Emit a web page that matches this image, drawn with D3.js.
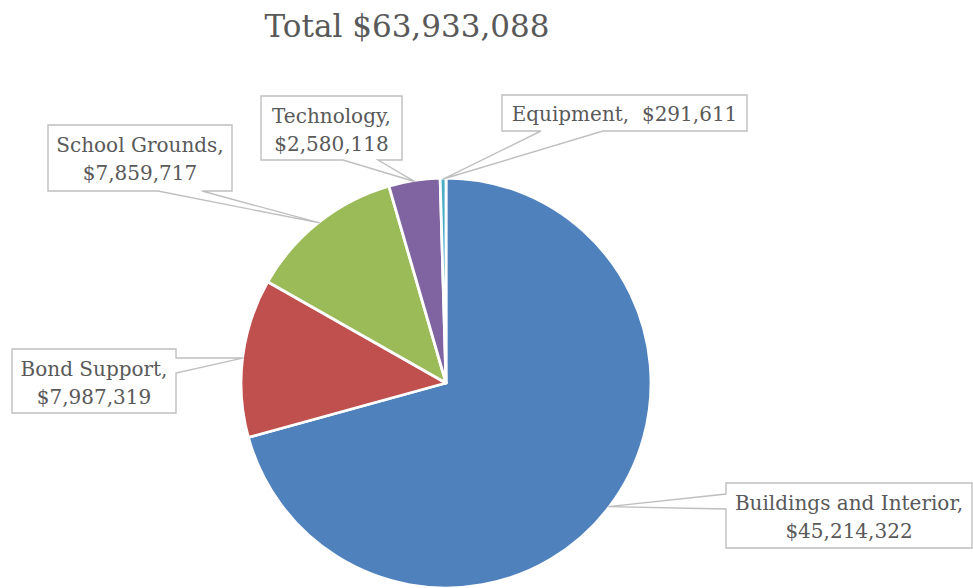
<!DOCTYPE html>
<html>
<head>
  <script src="https://d3js.org/d3.v7.min.js"></script>
  <style>
    body { margin: 0; background: #fff; }
  </style>
</head>
<body>
  <svg id="canvas" width="973" height="588"></svg>
  <script>
    const svg = d3.select("#canvas");

    // chart data
    const categories = ["Buildings and Interior", "Bond Support", "School Grounds", "Technology", "Equipment"];
    const values = [45214322, 7987319, 7859717, 2580118, 291611];
    const colors = ["#4F81BD", "#C0504D", "#9BBB59", "#8064A2", "#4BACC6"];
    const titleText = "Total $63,933,088";

    const font = "'DejaVu Serif', serif";
    const textColor = "#595959";
    const cx = 446, cy = 383, r = 205;

    // callout boxes (one per slice, same order)
    const boxes = [
      { x: 726, y: 483, w: 246, h: 65, side: "left",   n0: 494, n1: 509 },
      { x: 12,  y: 349, w: 164, h: 64, side: "right",  n0: 358, n1: 373 },
      { x: 48,  y: 125, w: 184, h: 66, side: "bottom", n0: 158, n1: 202 },
      { x: 261, y: 96,  w: 141, h: 64, side: "bottom", n0: 343, n1: 378 },
      { x: 502, y: 95,  w: 245, h: 36, side: "bottom", n0: 541, n1: 603 }
    ];

    const fmt = d3.format(",");

    svg.append("text")
      .attr("x", 407).attr("y", 37)
      .attr("text-anchor", "middle")
      .attr("font-family", font)
      .attr("font-size", 31)
      .attr("fill", textColor)
      .text(titleText);

    const pie = d3.pie().sort(null).value(d => d)(values);
    const arc = d3.arc().innerRadius(0).outerRadius(r);
    const edge = d3.arc().innerRadius(r - 1).outerRadius(r - 1);

    const g = svg.append("g").attr("transform", `translate(${cx},${cy})`);
    g.selectAll("path")
      .data(pie)
      .enter()
      .append("path")
      .attr("d", arc)
      .attr("fill", (d, i) => colors[i])
      .attr("stroke", "#fff")
      .attr("stroke-width", 2.8)
      .attr("stroke-linejoin", "round");

    function calloutPath(b, tip) {
      const x0 = b.x, y0 = b.y, x1 = b.x + b.w, y1 = b.y + b.h;
      const pts = [[x0, y0], [x1, y0]];
      if (b.side === "right") pts.push([x1, b.n0], tip, [x1, b.n1]);
      pts.push([x1, y1]);
      if (b.side === "bottom") pts.push([b.n1, y1], tip, [b.n0, y1]);
      pts.push([x0, y1]);
      if (b.side === "left") pts.push([x0, b.n1], tip, [x0, b.n0]);
      return "M" + pts.map(p => p.join(",")).join("L") + "Z";
    }

    const labels = svg.append("g");
    pie.forEach((d, i) => {
      const c = edge.centroid(d);
      const tip = [cx + c[0], cy + c[1]];
      const b = boxes[i];
      labels.append("path")
        .attr("d", calloutPath(b, tip))
        .attr("fill", "#fff")
        .attr("stroke", "#BFBFBF")
        .attr("stroke-width", 1.4);

      const lines = b.h < 50
        ? [categories[i] + ",\u00A0 $" + fmt(values[i])]
        : [categories[i] + ",", "$" + fmt(values[i])];
      const t = labels.append("text")
        .attr("text-anchor", "middle")
        .attr("font-family", font)
        .attr("font-size", 20)
        .attr("fill", textColor);
      lines.forEach((ln, k) => {
        t.append("tspan")
          .attr("x", b.x + b.w / 2)
          .attr("y", b.y + (lines.length === 1 ? 26 : 27 + k * 27.5))
          .text(ln);
      });
    });
  </script>
</body>
</html>
